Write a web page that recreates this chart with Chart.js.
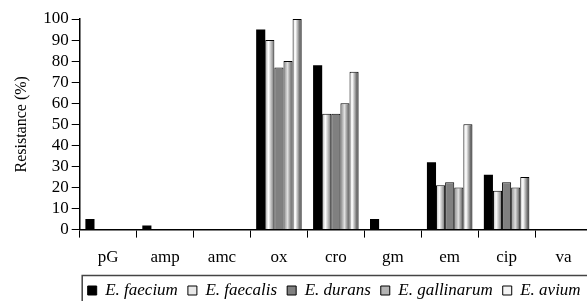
<!DOCTYPE html>
<html>
<head>
<meta charset="utf-8">
<script src="https://cdn.jsdelivr.net/npm/chart.js@4/dist/chart.umd.min.js"></script>
<style>
  html, body { margin: 0; padding: 0; background: #fff; overflow: hidden; }
  #wrap { width: 600px; height: 320px; position: relative; }
</style>
</head>
<body>
<div id="wrap"><canvas id="chart"></canvas></div>
<script>
const categories = ["pG", "amp", "amc", "ox", "cro", "gm", "em", "cip", "va"];
const faecium = [5, 2, 0, 95, 78, 5, 32, 26, 0];
const faecalis = [0, 0, 0, 90, 55, 0, 21, 18.5, 0];
const durans = [0, 0, 0, 77, 55, 0, 22.5, 22.5, 0];
const gallinarum = [0, 0, 0, 80, 60, 0, 20, 20, 0];
const avium = [0, 0, 0, 100, 75, 0, 50, 25, 0];
const seriesNames = ["E. faecium", "E. faecalis", "E. durans", "E. gallinarum", "E. avium"];
const yTicks = [0, 10, 20, 30, 40, 50, 60, 70, 80, 90, 100];

const serif = "'Liberation Serif', 'Times New Roman', serif";

// flat colours (also used for the legend boxes)
const flat = ["#000000", "#e8e8e8", "#808080", "#b4b4b4", "#f4f4f4"];
// shaded "cylinder" look of the original bars
const shades = [
  null,
  [[0, "#b0b0b0"], [0.35, "#ffffff"], [1, "#707070"]],
  null,
  [[0, "#858585"], [0.45, "#e0e0e0"], [1, "#505050"]],
  [[0, "#d8d8d8"], [0.3, "#ffffff"], [1, "#303030"]],
];

function barFill(context) {
  const i = context.datasetIndex;
  if (!shades[i]) return flat[i];
  const chart = context.chart;
  const xs = chart.scales.x;
  if (!xs || !chart.chartArea) return flat[i];
  const catW = xs.width / categories.length;
  const groupW = catW * 0.8;
  const barW = groupW / seriesNames.length;
  const left = xs.getPixelForValue(context.dataIndex) - groupW / 2 + i * barW;
  const g = chart.ctx.createLinearGradient(left, 0, left + barW, 0);
  shades[i].forEach(([p, c]) => g.addColorStop(p, c));
  return g;
}

const seriesData = [faecium, faecalis, durans, gallinarum, avium];

// legend sits under the plot, starting near the y axis, with a frame round it
const legendFrame = {
  id: "legendFrame",
  afterLayout(chart) {
    if (chart.legend) chart.legend.left = chart.chartArea.left - 2;
  },
  afterDraw(chart) {
    const lg = chart.legend;
    if (!lg) return;
    const ctx = chart.ctx;
    ctx.save();
    ctx.strokeStyle = "#444";
    ctx.lineWidth = 1.5;
    ctx.strokeRect(lg.left + 4.5, lg.top + 3.5, 620, 80);
    ctx.restore();
  },
};

new Chart(document.getElementById("chart"), {
  type: "bar",
  data: {
    labels: categories,
    datasets: seriesData.map((d, i) => ({
      label: seriesNames[i],
      data: d,
      backgroundColor: barFill,
      borderColor: "#000",
      borderWidth: i === 0 ? 0 : 1,
      categoryPercentage: 0.8,
      barPercentage: 1.0,
    })),
  },
  options: {
    responsive: true,
    maintainAspectRatio: false,
    animation: false,
    layout: { padding: { left: 12, right: 8, top: 19, bottom: 11 } },
    plugins: {
      tooltip: { enabled: false },
      legend: {
        position: "bottom",
        align: "start",
        labels: {
          boxWidth: 9,
          boxHeight: 9,
          padding: 10,
          color: "#000",
          font: { family: serif, size: 17, style: "italic" },
          generateLabels: () =>
            seriesNames.map((name, i) => ({
              text: name,
              fillStyle: flat[i],
              strokeStyle: "#000",
              lineWidth: 1,
              datasetIndex: i,
              hidden: false,
            })),
        },
      },
    },
    scales: {
      x: {
        grid: { drawOnChartArea: false, tickLength: 8, color: "#000", offset: true },
        border: { color: "#000", width: 1.5 },
        ticks: { color: "#000", padding: 10, font: { family: serif, size: 17 } },
        afterFit: (s) => { s.height -= 6; },
      },
      y: {
        min: 0,
        max: 100,
        afterBuildTicks: (s) => { s.ticks = yTicks.map((v) => ({ value: v })); },
        grid: { drawOnChartArea: false, tickLength: 8, color: "#000" },
        border: { color: "#000", width: 1.5 },
        ticks: { color: "#000", padding: 3, autoSkip: false, font: { family: serif, size: 17 } },
        title: {
          display: true,
          text: "Resistance (%)",
          color: "#000",
          font: { family: serif, size: 16 },
          padding: { top: 0, bottom: 9 },
        },
      },
    },
  },
  plugins: [legendFrame],
});
</script>
</body>
</html>
